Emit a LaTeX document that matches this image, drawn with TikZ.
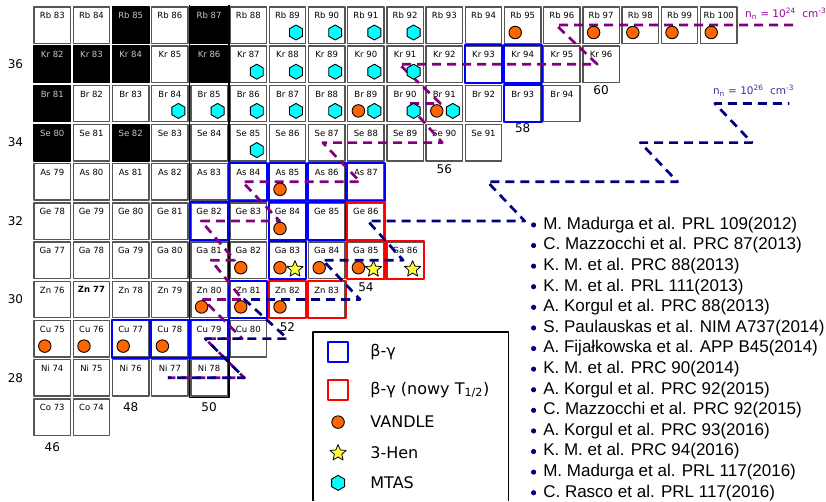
\documentclass[tikz,border=0pt]{standalone}
\usepackage{fontspec}
\setmainfont{DejaVu Sans}
\newfontfamily\refsfont{Liberation Sans}
\usetikzlibrary{shapes.geometric}
\definecolor{cellgray}{HTML}{555555}
\definecolor{stabletxt}{HTML}{C8C8C8}
\definecolor{path24}{HTML}{800080}
\definecolor{path26}{HTML}{000080}
\definecolor{lbl24}{HTML}{990099}
\definecolor{lbl26}{HTML}{333399}
\definecolor{vandleor}{HTML}{FF6600}
\definecolor{mtascyan}{HTML}{00FFFF}
\definecolor{henyel}{HTML}{FFFF40}
\tikzset{
  every picture/.style={line join=round},
  cell/.style={draw=cellgray, fill=white, line width=1.4pt, minimum size=36.4pt, inner sep=0pt},
  stable/.style={draw=black, fill=black},
  lbl/.style={anchor=north, inner sep=0pt, yshift=-6pt, font=\fontsize{8.5}{10}\selectfont},
  bgam/.style={draw=blue, line width=2pt},
  bgamnew/.style={draw=red, line width=2pt},
  magic/.style={draw=black, line width=1.7pt},
  maglbl/.style={font=\fontsize{12}{14}\selectfont, inner sep=0pt},
  rp24/.style={draw=path24, line width=2.7pt, dash pattern=on 9pt off 6pt},
  rp26/.style={draw=path26, line width=2.7pt, dash pattern=on 9pt off 6pt, dash phase=7.5pt},
  vandle/.style={circle, draw=black, fill=vandleor, line width=0.9pt, minimum size=12.5pt, inner sep=0pt},
  mtas/.style={regular polygon, regular polygon sides=6, shape border rotate=30, draw=black, fill=mtascyan, line width=0.9pt, minimum size=15pt, inner sep=0pt},
  hen/.style={star, star points=5, star point ratio=2.2, draw=black, fill=henyel, line width=0.8pt, minimum size=17pt, inner sep=0pt},
  legsq/.style={minimum size=20pt, inner sep=0pt, line width=2pt, fill=white},
  legtxt/.style={anchor=west, inner sep=0pt, font=\fontsize{16}{19}\selectfont},
  reftxt/.style={anchor=west, inner sep=0pt, font=\refsfont\fontsize{17}{20}\selectfont},
}
\begin{document}
\begin{tikzpicture}[x=39.2pt,y=39.2pt]
\useasboundingbox (-1.334,-12.143) rectangle (19.737,0.638);
% chart of nuclides
\foreach \el/\Z/\last in {Rb/37/17,Kr/36/14,Br/35/13,Se/34/11,As/33/8,Ge/32/8,Ga/31/9,Zn/30/7,Cu/29/5,Ni/28/4,Co/27/1}{
  \foreach \x in {0,...,\last}{
    \pgfmathtruncatemacro{\A}{\Z+46+\x}
    \node[cell,label={[lbl]north:\el\ \A}] (\el\A) at (\x,\Z-37) {};
  }
}
% stable
\foreach \el/\A/\x/\y in {Rb/85/2/0,Rb/87/4/0,Kr/82/0/-1,Kr/83/1/-1,Kr/84/2/-1,Kr/86/4/-1,Br/81/0/-2,Se/80/0/-3,Se/82/2/-3}
  \node[cell,stable,label={[lbl,text=stabletxt]north:\el\ \A}] (st\el\A) at (\x,\y) {};
\node[cell,label={[lbl,font=\fontsize{8.5}{10}\selectfont\bfseries]north:Zn 77}] (bZn77) at (1,-7) {};
% N=50
\draw[magic] (3.5,0.5) -- (3.5,-9.5) -- (4.5,-9.5) -- (4.5,0.5);
% beta-gamma
\foreach \c in {Kr93,Kr94,Br93,As84,As85,As86,As87,Ge82,Ge84,Ge85,Ga83,Zn81,Cu77,Cu78,Cu79}
  \draw[bgam] (\c.south west) rectangle (\c.north east);
\foreach \c in {Ge86,Ga85,Ga86,Zn82,Zn83}
  \draw[bgamnew] (\c.south west) rectangle (\c.north east);
% magic numbers
\foreach \z/\y in {36/-1,34/-3,32/-5,30/-7,28/-9}
  \node[maglbl] (z\z) at (-0.94,\y) {\z};
\foreach \n/\x/\y in {46/0/-10.76,48/2/-9.75,50/4/-9.75,52/6/-7.7,54/8/-6.69,56/10/-3.67,58/12/-2.63,60/14/-1.66}
  \node[maglbl] (n\n) at (\x,\y) {\n};
% r-process paths
\draw[rp24] (18.9,0) -- (12.85,0) -- (13.9,-1) -- (8.85,-1) -- (9.9,-2) -- (9.05,-2) -- (9.95,-3) -- (6.9,-3) -- (7.85,-4) -- (4.85,-4) -- (5.8,-5) -- (3.8,-5) -- (4.65,-6) -- (4.05,-6) -- (4.85,-7) -- (3.85,-7) -- (4.85,-8) -- (3.9,-8) -- (4.9,-9) -- (2.95,-9);
\draw[rp26] (18.8,-2) -- (16.9,-2) -- (17.85,-3) -- (15.0,-3) -- (15.95,-4) -- (11.1,-4) -- (12.05,-5) -- (8.05,-5) -- (8.95,-6) -- (6.9,-6) -- (7.85,-7) -- (4.9,-7) -- (6.0,-8) -- (3.9,-8) -- (4.9,-9) -- (2.95,-9);
\node[anchor=west, inner sep=0pt, text=lbl24, font=\fontsize{10.5}{12}\selectfont] (nn24) at (17.67,0.28) {n\textsubscript{n} = 10\textsuperscript{24}\ \ cm\textsuperscript{-3}};
\node[anchor=west, inner sep=0pt, text=lbl26, font=\fontsize{10.5}{12}\selectfont] (nn26) at (16.85,-1.68) {n\textsubscript{n} = 10\textsuperscript{26}\ \ cm\textsuperscript{-3}};
% measurements
\foreach \c in {Rb95,Rb97,Rb98,Rb99,Rb100,Br89,Br91,As85,Ge84,Ga82,Ga83,Ga84,Ga85,Zn80,Zn81,Zn82,Cu75,Cu76,Cu77,Cu78}
  \node[vandle] (v\c) at ([xshift=-7.5pt,yshift=-7.5pt]\c.center) {};
\foreach \c in {Rb89,Rb90,Rb91,Rb92,Kr87,Kr88,Kr89,Kr90,Kr91,Br84,Br85,Br86,Br87,Br88,Br89,Br90,Br91,Se85}
  \node[mtas] (m\c) at ([xshift=8.5pt,yshift=-7.5pt]\c.center) {};
\foreach \c in {Ga83,Ga85,Ga86}
  \node[hen] (h\c) at ([xshift=7.5pt,yshift=-9pt]\c.center) {};
% legend
\draw[line width=1.3pt] (6.65,-12.143) |- (11.63,-7.83) -- (11.63,-12.143);
\node[legsq,draw=blue] (legbg) at (7.29,-8.34) {};
\node[legtxt] (legbgt) at (8.11,-8.34) {β-γ};
\node[legsq,draw=red] (legbgn) at (7.29,-9.31) {};
\node[legtxt] (legbgnt) at (8.11,-9.31) {β-γ (nowy T\textsubscript{1/2})};
\node[vandle] (legv) at (7.29,-10.13) {};
\node[legtxt] (legvt) at (8.11,-10.13) {VANDLE};
\node[hen] (legh) at (7.29,-10.92) {};
\node[legtxt] (leght) at (8.11,-10.92) {3-Hen};
\node[mtas] (legm) at (7.29,-11.68) {};
\node[legtxt] (legmt) at (8.11,-11.68) {MTAS};
% publications
\foreach \t [count=\i] in {M. Madurga et al. PRL 109(2012), C. Mazzocchi et al. PRC 87(2013), K. M. et al. PRC 88(2013), K. M. et al. PRL 111(2013), A. Korgul et al. PRC 88(2013), S. Paulauskas et al. NIM A737(2014), A. Fijałkowska et al. APP B45(2014), K. M. et al. PRC 90(2014), A. Korgul et al. PRC 92(2015), C. Mazzocchi et al. PRC 92(2015), A. Korgul et al. PRC 93(2016), K. M. et al. PRC 94(2016), M. Madurga et al. PRL 117(2016), C. Rasco et al. PRL 117(2016)}{
  \node[reftxt] (ref\i) at (12.52,{-5.1-0.5255*(\i-1)}) {\t};
  \fill[path26] ([xshift=-9.5pt]ref\i.west) circle (2.6pt);
}
\end{tikzpicture}
\end{document}
